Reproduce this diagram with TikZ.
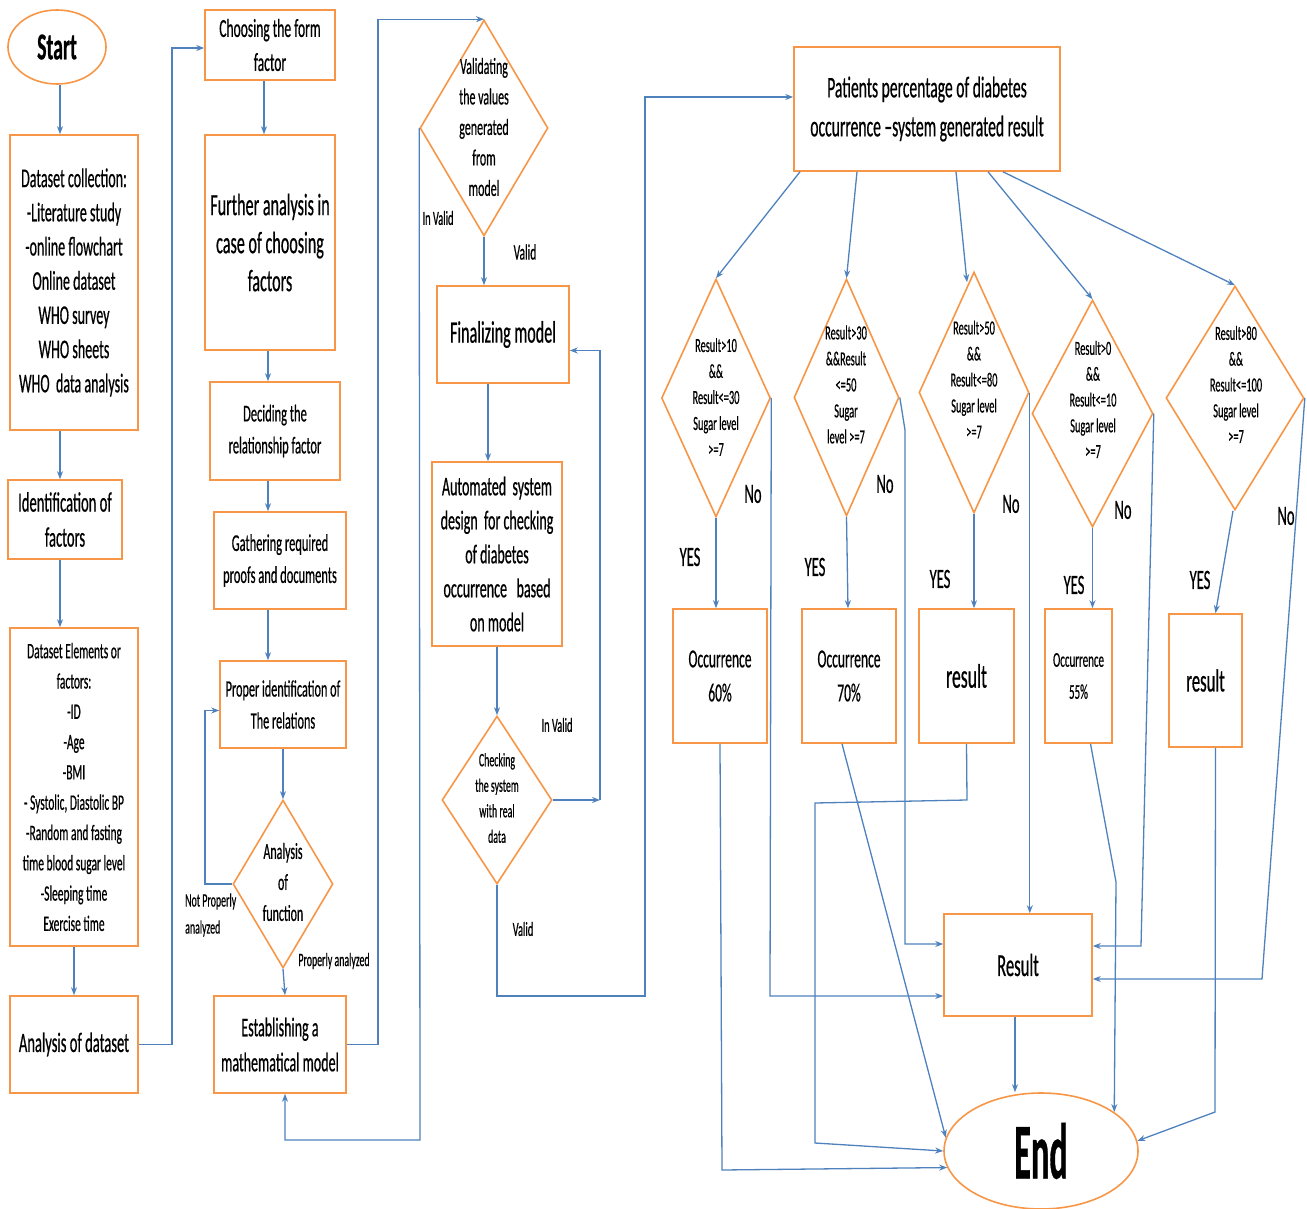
\documentclass[tikz,border=0pt]{standalone}
\usepackage{fontspec}
\setmainfont{Carlito}[FakeStretch=0.52,FakeBold=0.5]
\usetikzlibrary{shapes.geometric,arrows.meta}
\definecolor{orng}{HTML}{F79646}
\definecolor{blu}{HTML}{4F81BD}
\newcommand\myfs[2]{\fontsize{#1pt}{#2pt}\selectfont}
\begin{document}
\begin{tikzpicture}[x=1pt,y=-1pt,
  box/.style={draw=orng, line width=1.6pt, inner sep=0pt, align=center},
  dia/.style={draw=orng, diamond, line width=1.6pt, inner sep=0pt},
  arr/.style={draw=blu, line width=1.3pt, -{Stealth[length=8pt,width=6pt]}},
  lbl/.style={inner sep=0pt, align=center}]
\useasboundingbox (0,0) rectangle (1307,1209);
% column 1
\node[box, ellipse, minimum width=98pt, minimum height=74pt, font={\myfs{38}{40}\bfseries}] (start) at (57,47) {Start};
\node[box, minimum width=128pt, minimum height=295pt, font={\myfs{27}{34.2}}] (dc) at (74,282.5) {Dataset collection:\\-Literature study\\-online flowchart\\Online dataset\\WHO survey\\WHO sheets\\WHO\ \ data analysis};
\node[box, minimum width=114pt, minimum height=79pt, font={\myfs{28}{35}}] (idf) at (65,519.5) {Identification of\\factors};
\node[box, minimum width=128pt, minimum height=318pt, font={\myfs{22}{30.3}}] (dse) at (74,787) {Dataset Elements or\\factors:\\-ID\\-Age\\-BMI\\- Systolic, Diastolic BP\\-Random and fasting\\time blood sugar level\\-Sleeping time\\Exercise time};
\node[box, minimum width=128pt, minimum height=97pt, font={\myfs{28}{34}}] (ads) at (74,1044.5) {Analysis of dataset};
% column 2
\node[box, minimum width=130pt, minimum height=70pt, font={\myfs{26}{34}}] (cff) at (270,45) {Choosing the form\\factor};
\node[box, minimum width=130pt, minimum height=215pt, font={\myfs{31}{38}}] (fa) at (270,242.5) {Further analysis in\\case of choosing\\factors};
\node[box, minimum width=130pt, minimum height=98pt, font={\myfs{24}{32}}] (drf) at (275,431) {Deciding the\\relationship factor};
\node[box, minimum width=132pt, minimum height=97pt, font={\myfs{24}{32}}] (grp) at (280,560.5) {Gathering required\\proofs and documents};
\node[box, minimum width=126pt, minimum height=87pt, font={\myfs{23.5}{32}}] (pir) at (283,704.5) {Proper identification of\\The relations};
\node[dia, minimum width=100pt, minimum height=168pt] (aof) at (283,884) {};
\node[lbl, font={\myfs{23}{31}}] (aoft) at (283,882) {Analysis\\of\\function};
\node[box, minimum width=132pt, minimum height=97pt, font={\myfs{27}{35}}] (emm) at (280,1044.5) {Establishing a\\mathematical model};
\node[lbl, anchor=west, align=left, font={\myfs{19}{27}}] (npa) at (185,915) {Not Properly\\analyzed};
\node[lbl, font={\myfs{19}{22}}] (pa) at (334,961) {Properly analyzed};
% column 3
\node[dia, minimum width=128pt, minimum height=216pt] (vd) at (484,128) {};
\node[lbl, font={\myfs{23}{30.5}}] (vdt) at (484,127) {Validating\\the values\\generated\\from\\model};
\node[box, minimum width=132pt, minimum height=97pt, font={\myfs{31}{34}}] (fm) at (503,334.5) {Finalizing model};
\node[box, minimum width=130pt, minimum height=184pt, font={\myfs{27}{34}}] (asd) at (497,554) {Automated\ \ system\\design\ \ for checking\\of diabetes\\occurrence\ \ \ based\\on model};
\node[dia, minimum width=110pt, minimum height=168pt] (chk) at (497,800) {};
\node[lbl, font={\myfs{19}{25.5}}] (chkt) at (497,798) {Checking\\the system\\with real\\data};
\node[lbl, font={\myfs{20}{22}}] (iv1) at (438,218) {In Valid};
\node[lbl, font={\myfs{22}{24}}] (v1) at (525,252) {Valid};
\node[lbl, font={\myfs{20}{22}}] (iv2) at (557,725) {In Valid};
\node[lbl, font={\myfs{20}{22}}] (v2) at (523,929) {Valid};
% right part
\node[box, minimum width=266pt, minimum height=124pt, font={\myfs{30}{39}}] (pp) at (927,109) {Patients percentage of diabetes\\occurrence --system generated result};
\node[dia, minimum width=109pt, minimum height=238pt] (d1) at (716,398) {};
\node[lbl, font={\myfs{20}{26}}] (d1t) at (716,397) {Result>10\\\&\&\\Result<=30\\Sugar level\\>=7};
\node[dia, minimum width=105pt, minimum height=237pt] (d2) at (846.5,397.5) {};
\node[lbl, font={\myfs{20}{26}}] (d2t) at (846,384.5) {Result>30\\\&\&Result\\<=50\\Sugar\\level >=7};
\node[dia, minimum width=110pt, minimum height=241pt] (d3) at (974,392.5) {};
\node[lbl, font={\myfs{20}{26}}] (d3t) at (974,379.5) {Result>50\\\&\&\\Result<=80\\Sugar level\\>=7};
\node[dia, minimum width=121pt, minimum height=227pt] (d4) at (1092.5,413.5) {};
\node[lbl, font={\myfs{20}{25.8}}] (d4t) at (1093,399.5) {Result>0\\\&\&\\Result<=10\\Sugar level\\>=7};
\node[dia, minimum width=138pt, minimum height=224pt] (d5) at (1235,398) {};
\node[lbl, font={\myfs{20}{25.8}}] (d5t) at (1236,384.5) {Result>80\\\&\&\\Result<=100\\Sugar level\\>=7};
\node[box, minimum width=94pt, minimum height=134pt, font={\myfs{26}{34}}] (b1) at (720,676) {Occurrence\\60\%};
\node[box, minimum width=94pt, minimum height=134pt, font={\myfs{26}{34}}] (b2) at (849,676) {Occurrence\\70\%};
\node[box, minimum width=95pt, minimum height=134pt, font={\myfs{34}{36}}] (b3) at (966.5,676) {result};
\node[box, minimum width=67pt, minimum height=134pt, font={\myfs{21}{32}}] (b4) at (1078.5,676) {Occurrence\\55\%};
\node[box, minimum width=73pt, minimum height=133pt, font={\myfs{32}{36}}] (b5) at (1205.5,680.5) {result};
\node[box, minimum width=148pt, minimum height=102pt, font={\myfs{32}{36}}] (res) at (1018,965) {Result};
\node[box, ellipse, minimum width=194pt, minimum height=116pt, font={\myfs{66}{70}\bfseries}] (end) at (1041,1151) {\scalebox{1}[1.2]{End}};
\tikzset{yn/.style={lbl, font={\myfs{28}{30}}}}
\node[yn] (y1) at (690,557) {YES};
\node[yn] (n1) at (753,494) {No};
\node[yn] (y2) at (815,567) {YES};
\node[yn] (n2) at (885,484) {No};
\node[yn] (y3) at (940,579) {YES};
\node[yn] (n3) at (1011,504) {No};
\node[yn] (y4) at (1074,585) {YES};
\node[yn] (n4) at (1123,510) {No};
\node[yn] (y5) at (1200,580) {YES};
\node[yn] (n5) at (1286,516) {No};
% connectors column 1
\draw[arr] ([xshift=3pt]start.south) -- ([xshift=3pt]start.south |- dc.north);
\draw[arr] ([xshift=-14pt]dc.south) -- ([xshift=-14pt]dc.south |- idf.north);
\draw[arr] ([xshift=-14pt]dse.north |- idf.south) -- ([xshift=-14pt]dse.north);
\draw[arr] (dse.south) -- (ads.north);
\draw[arr] (ads.east) -- (172,1044.5) |- ([yshift=-3pt]cff.west);
% column 2
\draw[arr] ([xshift=-6pt]cff.south) -- ([xshift=-6pt]fa.north);
\draw[arr] ([xshift=-2pt]fa.south) -- ([xshift=-2pt]fa.south |- drf.north);
\draw[arr] ([xshift=-7pt]drf.south) -- ([xshift=-7pt]drf.south |- grp.north);
\draw[arr] ([xshift=-12pt]grp.south) -- ([xshift=-12pt]grp.south |- pir.north);
\draw[arr] (pir.south) -- (aof.north);
\draw[arr] (aof.west) -- (205,884) |- ([yshift=-6pt]pir.west);
\draw[arr] (aof.south) -- ([xshift=5pt]emm.north);
\draw[arr] (emm.east) -- (378,1044.5) |- (vd.north);
\draw[arr] (vd.west) -- (420,1140) -| ([xshift=5pt]emm.south);
% column 3
\draw[arr] (vd.south) -- (vd.south |- fm.north);
\draw[arr] ([xshift=-15pt]fm.south) -- ([xshift=-15pt]fm.south |- asd.north);
\draw[arr] (asd.south) -- (chk.north);
\coordinate (ivc) at (600,800);
\draw[arr] (chk.east) -- (ivc);
\draw[arr] (ivc) |- ([yshift=-16pt]fm.east);
\draw[arr] (chk.south) -- (497,996) -- (645,996) |- ([yshift=12pt]pp.west);
% patients to diamonds
\draw[arr] ([xshift=-127pt]pp.south) -- (d1.north);
\draw[arr] ([xshift=-70pt]pp.south) -- (d2.north);
\draw[arr] ([xshift=29pt]pp.south) -- ([xshift=-7pt,yshift=-11pt]d3.north);
\draw[arr] ([xshift=61pt]pp.south) -- (d4.north);
\draw[arr] ([xshift=76pt]pp.south) -- (d5.north);
% yes
\draw[arr] (d1.south) -- (d1.south |- b1.north);
\draw[arr] (d2.south) -- ([xshift=-1pt]b2.north);
\draw[arr] (d3.south) -- (d3.south |- b3.north);
\draw[arr] (d4.south) -- (d4.south |- b4.north);
\draw[arr] ([xshift=-2pt]d5.south) -- ([xshift=10pt]b5.north);
% no
\draw[arr] (d1.east) -- (770,996) -- ([yshift=-31pt]res.west);
\draw[arr] (d2.east) -- (905,430) -- (905,944) -- ([yshift=21pt]res.west);
\draw[arr] (d3.east) -- (d3.east |- res.north);
\draw[arr] (d4.east) -- (1141,946) -- ([yshift=19pt]res.east);
\draw[arr] (d5.east) -- (1262,979) -- ([yshift=-14pt]res.east);
% to end
\draw[arr] (b1.south) -- (722,1170) -- (end.190);
\draw[arr] ([xshift=-7pt]b2.south) -- (end.172);
\draw[arr] (b3.south) -- (967,800) -- (815,803) -- (815,1143) -- (end.west);
\draw[arr] ([xshift=12pt]b4.south) -- (1116,882) -- (end.28);
\draw[arr] ([xshift=10pt]b5.south) -- (1215,1112) -- (end.6);
\draw[arr] ([xshift=-3pt]res.south) -- ([xshift=-3pt]res.south |- end.north);
\end{tikzpicture}
\end{document}
